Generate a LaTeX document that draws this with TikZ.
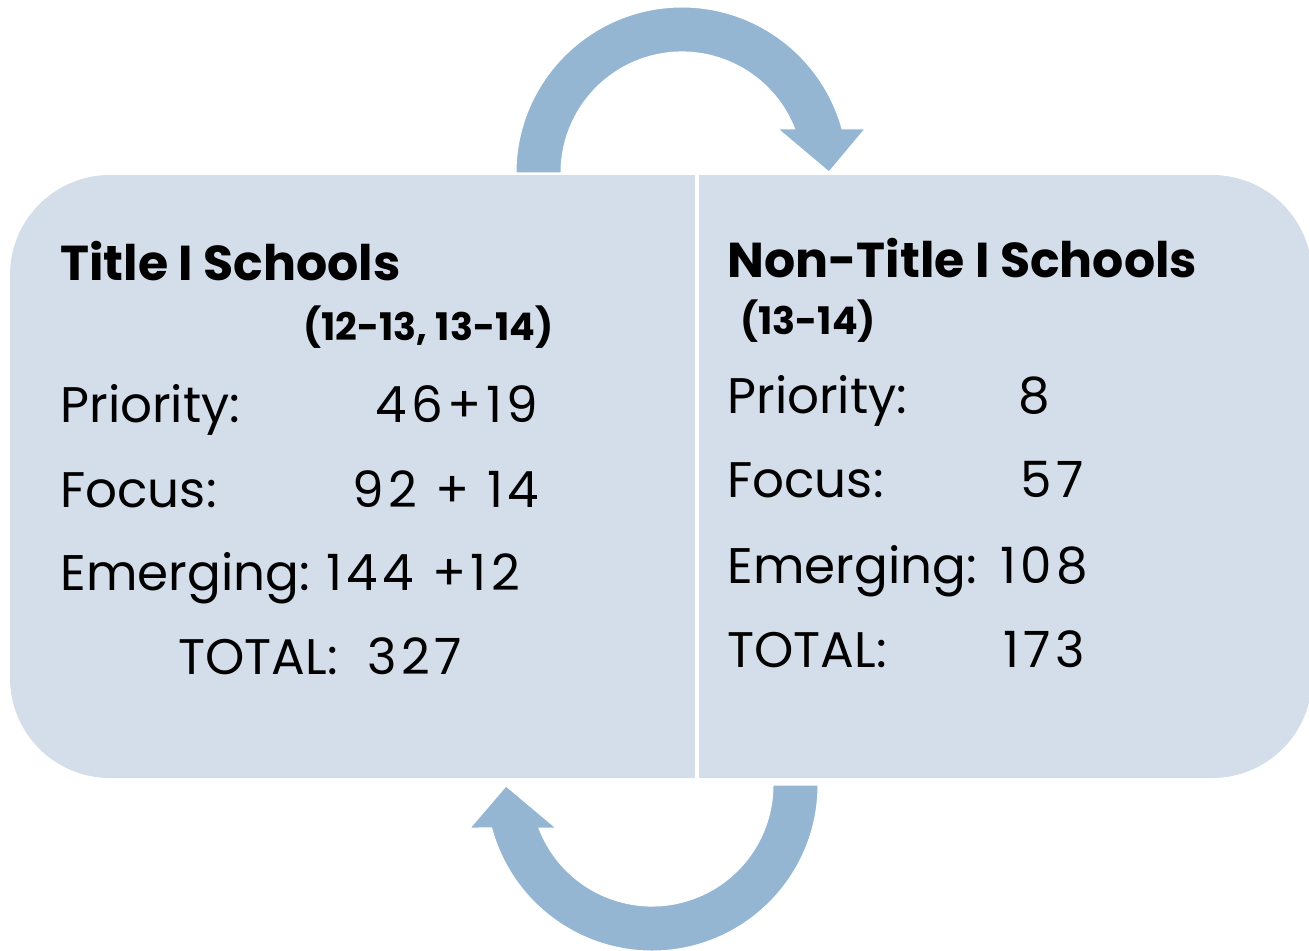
\documentclass[tikz,border=0pt]{standalone}
\usepackage{fontspec}
\setmainfont{Poppins}
\definecolor{boxfill}{HTML}{D3DEEA}
\definecolor{arrowfill}{HTML}{95B6D3}

\begin{document}
\begin{tikzpicture}[
    x=0.5pt, y=0.5pt,
    every node/.style={inner sep=0pt, anchor=base west, text=black},
    headtext/.style={font=\fontsize{24.5}{28}\selectfont\bfseries},
    yeartext/.style={font=\fontsize{19}{22}\selectfont\bfseries},
    rowtext/.style={font=\fontsize{25}{30}\selectfont},
    numtext/.style={font=\fontsize{25}{30}\selectfont\addfontfeatures{LetterSpace=9}},
    cyclearrow/.style={fill=arrowfill, draw=white, line width=0.5pt}
]
\useasboundingbox (0,0) rectangle (1309,950);

% the two halves
\fill[boxfill, rounded corners=50pt] (10,172) rectangle (1312,775);
\draw[white, line width=2pt] (697,172) -- (697,775);

% arrows round the box
\path[cyclearrow] (516,777) arc[start angle=180, end angle=15.4, radius=166]
    -- (865,821) -- (829,778) -- (778,821) -- (794.7,821)
    arc[start angle=21.3, end angle=180, radius=121] -- cycle;
\path[cyclearrow] (818,165) arc[start angle=0, end angle=-165, radius=166]
    -- (470,122) -- (506,164) -- (556,122) -- (538.9,122)
    arc[start angle=-159.2, end angle=0, radius=121] -- cycle;

% Title I
\node[headtext] (titlehead) at (60,670) {Title I Schools};
\node[yeartext] (titleyear) at (303,610) {(12-13, 13-14)};
\node[rowtext] (titleprio) at (60,528) {Priority:};
\node[numtext] (titleprionum) at (375,528) {46+19};
\node[rowtext] (titlefocus) at (60,443) {Focus:};
\node[numtext] (titlefocusnum) at (352,443) {92 + 14};
\node[rowtext] (titleemer) at (60,360) {Emerging:};
\node[numtext] (titleemernum) at (326,360) {144 +12};
\node[rowtext] (titletotal) at (178,276) {TOTAL:};
\node[numtext] (titletotalnum) at (367,276) {327};

% Non-Title I
\node[headtext] (nonhead) at (727,673) {Non-Title I Schools};
\node[yeartext] (nonyear) at (740,616) {(13-14)};
\node[rowtext] (nonprio) at (727,537) {Priority:};
\node[numtext] (nonprionum) at (1018,537) {8};
\node[rowtext] (nonfocus) at (727,453) {Focus:};
\node[numtext] (nonfocusnum) at (1020,453) {57};
\node[rowtext] (nonemer) at (727,367) {Emerging:};
\node[numtext] (nonemernum) at (1000,367) {108};
\node[rowtext] (nontotal) at (727,283) {TOTAL:};
\node[numtext] (nontotalnum) at (1003,283) {173};
\end{tikzpicture}
\end{document}
